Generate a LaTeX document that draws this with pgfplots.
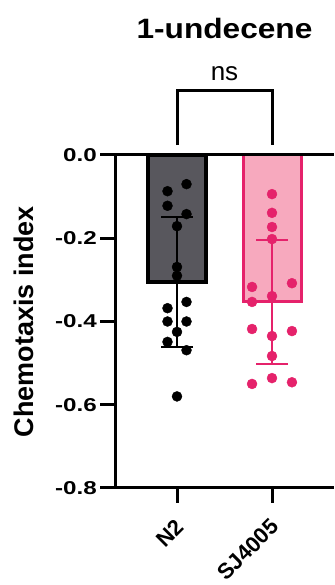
\documentclass[border=0pt]{standalone}
\usepackage{fontspec}
\setmainfont{Liberation Sans}
\usepackage{pgfplots}
\pgfplotsset{compat=1.18}
\newfontfamily\tickfont[FakeStretch=1.3]{Liberation Sans}
\newfontfamily\titlefont[FakeStretch=1.13]{Liberation Sans}
\definecolor{darkbar}{HTML}{58575D}
\definecolor{pinkedge}{HTML}{E5226B}
\definecolor{pinkfill}{HTML}{F7A9BE}
\begin{document}
\begin{tikzpicture}[x=1bp,y=1bp]
\path[use as bounding box] (0,0) rectangle (334,585);
\begin{axis}[
  at={(115bp,97bp)}, anchor=south west,
  scale only axis, width=219bp, height=333bp,
  xmin=-0.6526, xmax=1.6526, ymin=-0.8, ymax=0,
  clip=false,
  axis x line*=bottom, axis y line*=left,
  axis line style={line width=3bp, black},
  tick align=outside, major tick length=15bp,
  tick style={line width=3bp, black},
  xtick={0,1}, xticklabels={N2,SJ4005},
  ytick={-0.8,-0.6,-0.4,-0.2,0}, yticklabels={-0.8,-0.6,-0.4,-0.2,0.0},
  yticklabel style={font=\tickfont\bfseries\fontsize{18.6bp}{20bp}\selectfont, inner sep=0pt, xshift=-3bp},
  xticklabel style={font=\bfseries\fontsize{22bp}{24bp}\selectfont, rotate=45, anchor=east, inner sep=0pt, xshift=-12bp, yshift=-16bp},
  ylabel={Chemotaxis index},
  ylabel style={font=\bfseries\fontsize{27bp}{30bp}\selectfont, at={(axis description cs:-0.3744,0.5)}, anchor=base},
]
\addplot[ybar, bar width=58bp, bar shift=0pt, fill=darkbar, draw=black, line width=3.5bp] coordinates {(0,-0.305)};
\addplot[ybar, bar width=58bp, bar shift=0pt, fill=pinkfill, draw=pinkedge, line width=3bp] coordinates {(1,-0.353)};
\addplot[draw=none, mark=none, forget plot,
  error bars/.cd, y dir=both, y explicit,
  error bar style={draw=black, line width=2bp},
  error mark options={rotate=90, mark size=16bp, line width=2bp, draw=black}]
  coordinates {(0,-0.305) +- (0,0.157)};
\addplot[draw=none, mark=none, forget plot,
  error bars/.cd, y dir=both, y explicit,
  error bar style={draw=pinkedge, line width=2bp},
  error mark options={rotate=90, mark size=16bp, line width=2bp, draw=pinkedge}]
  coordinates {(1,-0.353) +- (0,0.149)};
\addplot[only marks, mark=*, mark size=5bp, mark options={fill=black, draw=black}] coordinates {
(0.1,-0.070) (-0.1,-0.087) (-0.1,-0.122) (0.1,-0.142) (0,-0.171) (0,-0.269) (0,-0.290) (0.1,-0.353)
(-0.1,-0.368) (-0.1,-0.400) (0.1,-0.400) (0,-0.425) (-0.1,-0.449) (0.1,-0.469) (0,-0.580)};
\addplot[only marks, mark=*, mark size=5bp, mark options={fill=pinkedge, draw=pinkedge}] coordinates {
(1,-0.094) (1,-0.139) (1,-0.173) (1,-0.202) (0.79,-0.317) (1.21,-0.308) (0.79,-0.353) (1,-0.339)
(0.79,-0.418) (1,-0.435) (1.21,-0.423) (1,-0.483) (0.79,-0.550) (1,-0.536) (1.21,-0.546)};
\draw[line width=3bp, black] (axis cs:-0.6526,0) -- (axis cs:1.6526,0);
\draw[line width=3bp, black] (axis cs:0,0.024) -- (axis cs:0,0.156) -- (axis cs:1,0.156) -- (axis cs:1,0.024);
\node[anchor=base, font=\fontsize{26bp}{28bp}\selectfont] at (axis cs:0.5,0.18) {ns};
\node[anchor=base, font=\titlefont\bfseries\fontsize{28bp}{30bp}\selectfont] at (axis cs:0.5,0.281) {1-undecene};
\end{axis}
\end{tikzpicture}
\end{document}
